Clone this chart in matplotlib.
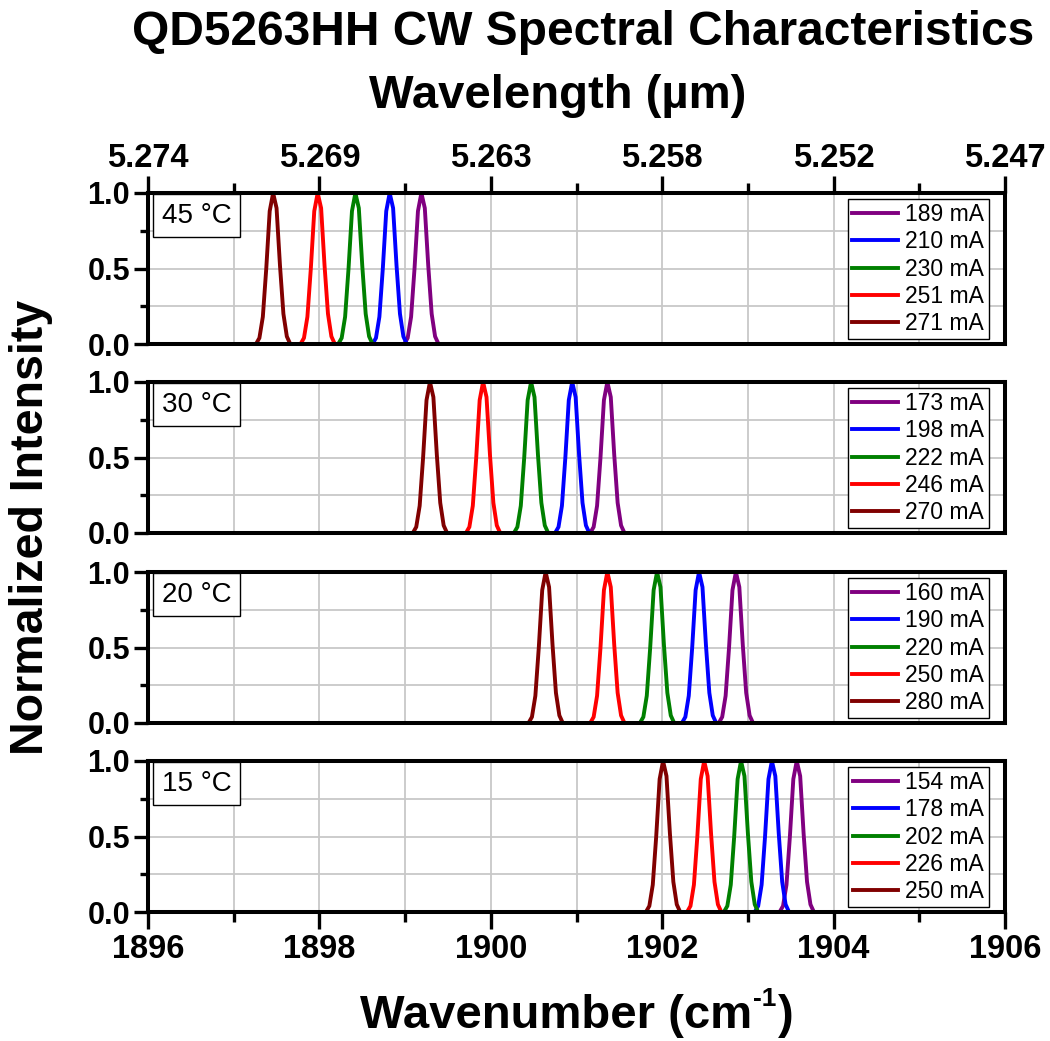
import matplotlib
matplotlib.use("Agg")
import matplotlib.pyplot as plt
from matplotlib.ticker import MultipleLocator, FixedLocator

plt.rcParams['font.family'] = ['Liberation Sans', 'DejaVu Sans']

# ---------------- data ----------------
temps = ["45 °C", "30 °C", "20 °C", "15 °C"]

currents_45 = [189, 210, 230, 251, 271]
centers_45 = [1899.19, 1898.82, 1898.42, 1897.98, 1897.46]

currents_30 = [173, 198, 222, 246, 270]
centers_30 = [1901.36, 1900.95, 1900.47, 1899.91, 1899.29]

currents_20 = [160, 190, 220, 250, 280]
centers_20 = [1902.86, 1902.43, 1901.94, 1901.36, 1900.64]

currents_15 = [154, 178, 202, 226, 250]
centers_15 = [1903.57, 1903.28, 1902.92, 1902.49, 1902.01]

# peak profile (offset from peak centre, cm^-1)
profile_offset = [-0.20, -0.16, -0.12, -0.08, -0.04, 0.0, 0.04, 0.08, 0.12, 0.16, 0.20]
profile_value = [0.0, 0.04, 0.18, 0.50, 0.88, 1.0, 0.90, 0.52, 0.20, 0.05, 0.0]

wn_ticks = [1896, 1898, 1900, 1902, 1904, 1906]
wl_labels = ["5.274", "5.269", "5.263", "5.258", "5.252", "5.247"]

series_colors = ["#800080", "#0000ff", "#008000", "#ff0000", "#800000"]

panels = [(temps[0], currents_45, centers_45),
          (temps[1], currents_30, centers_30),
          (temps[2], currents_20, centers_20),
          (temps[3], currents_15, centers_15)]

# ---------------- figure ----------------
W, H = 1050, 1041
fig = plt.figure(figsize=(W / 100, H / 100), dpi=100)

left_px, right_px = 148, 1005
panel_px = [(193, 344), (382, 533), (572, 723), (761, 912)]

spine_lw = 2.9
axes = []
for i, (temp, currents, centers) in enumerate(panels):
    top, bot = panel_px[i]
    ax = fig.add_axes([left_px / W, 1 - bot / H, (right_px - left_px) / W, (bot - top) / H])
    axes.append(ax)
    for cur, cen, col in zip(currents, centers, series_colors):
        xs = [1896.0] + [cen + o for o in profile_offset] + [1906.0]
        ys = [0.0] + list(profile_value) + [0.0]
        ax.plot(xs, ys, color=col, lw=2.8, label=f"{cur} mA", solid_joinstyle='miter')
    ax.set_xlim(1896, 1906)
    ax.set_ylim(0, 1.0)
    ax.xaxis.set_major_locator(FixedLocator(wn_ticks))
    ax.xaxis.set_minor_locator(MultipleLocator(1))
    ax.yaxis.set_major_locator(FixedLocator([0, 0.5, 1.0]))
    ax.yaxis.set_minor_locator(FixedLocator([0.25, 0.75]))
    ax.set_yticklabels(["0.0", "0.5", "1.0"])
    ax.grid(True, which='both', color='#c8c8c8', lw=1.3)
    ax.set_axisbelow(True)
    for s in ax.spines.values():
        s.set_linewidth(spine_lw)
    ax.tick_params(axis='y', which='major', direction='out', length=10, width=2.4,
                   labelsize=22, pad=3)
    ax.tick_params(axis='y', which='minor', direction='out', length=6, width=2.4)
    for lab in ax.get_yticklabels():
        lab.set_fontweight('bold')

    if i == 0:
        ax.xaxis.tick_top()
        ax.tick_params(axis='x', which='major', direction='out', length=12, width=2.4,
                       labelsize=23.5, pad=2, bottom=False, labelbottom=False)
        ax.tick_params(axis='x', which='minor', direction='out', length=7, width=2.4,
                       bottom=False)
        ax.set_xticklabels(wl_labels)
        for lab in ax.get_xticklabels():
            lab.set_fontweight('bold')
    elif i == 3:
        ax.tick_params(axis='x', which='major', direction='out', length=12, width=2.4,
                       labelsize=23.5, pad=4)
        ax.tick_params(axis='x', which='minor', direction='out', length=7, width=2.4)
        ax.set_xticklabels([str(t) for t in wn_ticks])
        for lab in ax.get_xticklabels():
            lab.set_fontweight('bold')
    else:
        ax.tick_params(axis='x', which='both', bottom=False, top=False,
                       labelbottom=False, labeltop=False)

    leg = ax.legend(loc='upper right', bbox_to_anchor=(0.981, 0.962), fontsize=16.5,
                    frameon=True, fancybox=False, framealpha=1, edgecolor='black',
                    handlelength=2.0, handletextpad=0.3, labelspacing=0.18,
                    borderpad=0.2, borderaxespad=0)
    leg.get_frame().set_linewidth(1.0)

    ax.text(0.016, 0.935, temp, transform=ax.transAxes, fontsize=20, ha='left', va='top',
            bbox=dict(boxstyle='square,pad=0.3', fc='white', ec='black', lw=1.0))

fig.text(0.555, 0.969, "QD5263HH CW Spectral Characteristics", ha='center', va='center',
         fontsize=34.5, fontweight='bold')
fig.text(0.531, 0.908, "Wavelength (µm)", ha='center', va='center',
         fontsize=34, fontweight='bold')
fig.text(0.03, 0.493, "Normalized Intensity", ha='center', va='center', rotation=90,
         fontsize=33.5, fontweight='bold')

# x-axis title with a raised "-1"
base_y = 0.0125
t1 = fig.text(360 / W, base_y, "Wavenumber (cm", ha='left', va='baseline',
              fontsize=34, fontweight='bold')
fig.canvas.draw()
bb1 = t1.get_window_extent()
t2 = fig.text((bb1.x1 + 1) / W, base_y + 22 / H, "-1", ha='left', va='baseline',
              fontsize=19, fontweight='bold')
fig.canvas.draw()
bb2 = t2.get_window_extent()
fig.text((bb2.x1 + 1) / W, base_y, ")", ha='left', va='baseline',
         fontsize=34, fontweight='bold')

fig.savefig("out.png", dpi=100)
